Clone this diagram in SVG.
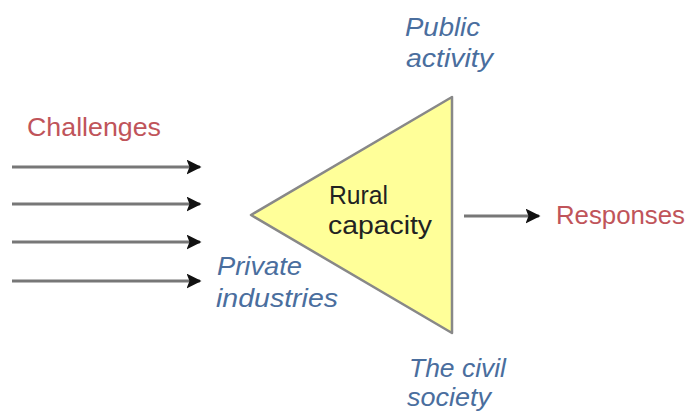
<svg xmlns="http://www.w3.org/2000/svg" width="687" height="413" viewBox="0 0 687 413">
<style>
.red{font-family:"Liberation Sans",Arial,sans-serif;font-size:26px;fill:#c0545a}
.blue{font-family:"Liberation Sans",Arial,sans-serif;font-size:26px;font-style:italic;fill:#4a6e9e}
.blk{font-family:"Liberation Sans",Arial,sans-serif;font-size:26px;fill:#222}
.ln{stroke:#777;stroke-width:3;fill:none;marker-end:url(#ah)}
</style>
<defs>
<marker id="ah" viewBox="0 0 10 10" refX="9" refY="5" markerWidth="5" markerHeight="5" orient="auto" markerUnits="strokeWidth">
<path d="M0,0 L10,5 L0,10 L2,5 z" fill="#111"/>
</marker>
</defs>
<rect width="687" height="413" fill="#fff"/>
<g id="connectors">
<line class="ln" x1="12" y1="167" x2="200" y2="167"/>
<line class="ln" x1="12" y1="204" x2="200" y2="204"/>
<line class="ln" x1="12" y1="242" x2="200" y2="242"/>
<line class="ln" x1="12" y1="281" x2="200" y2="281"/>
<line class="ln" x1="464" y1="216" x2="539" y2="216"/>
</g>
<g id="challenges"><text class="red" x="27" y="136" textLength="134" lengthAdjust="spacingAndGlyphs">Challenges</text></g>
<g id="rural-capacity">
<polygon points="251,215 452,97 452,333" fill="#ffff99" stroke="#888" stroke-width="2.5" stroke-linejoin="round"/>
<text class="blk" x="329" y="204" textLength="59" lengthAdjust="spacingAndGlyphs">Rural</text>
<text class="blk" x="328" y="234" textLength="104" lengthAdjust="spacingAndGlyphs">capacity</text>
</g>
<g id="public-activity">
<text class="blue" x="405" y="36" textLength="75" lengthAdjust="spacingAndGlyphs">Public</text>
<text class="blue" x="406" y="67" textLength="87" lengthAdjust="spacingAndGlyphs">activity</text>
</g>
<g id="private-industries">
<text class="blue" x="217" y="275" textLength="85" lengthAdjust="spacingAndGlyphs">Private</text>
<text class="blue" x="216" y="307" textLength="122" lengthAdjust="spacingAndGlyphs">industries</text>
</g>
<g id="civil-society">
<text class="blue" x="409" y="377" textLength="97" lengthAdjust="spacingAndGlyphs">The civil</text>
<text class="blue" x="407" y="406" textLength="84" lengthAdjust="spacingAndGlyphs">society</text>
</g>
<g id="responses"><text class="red" x="556" y="224" textLength="129" lengthAdjust="spacingAndGlyphs">Responses</text></g>
</svg>
